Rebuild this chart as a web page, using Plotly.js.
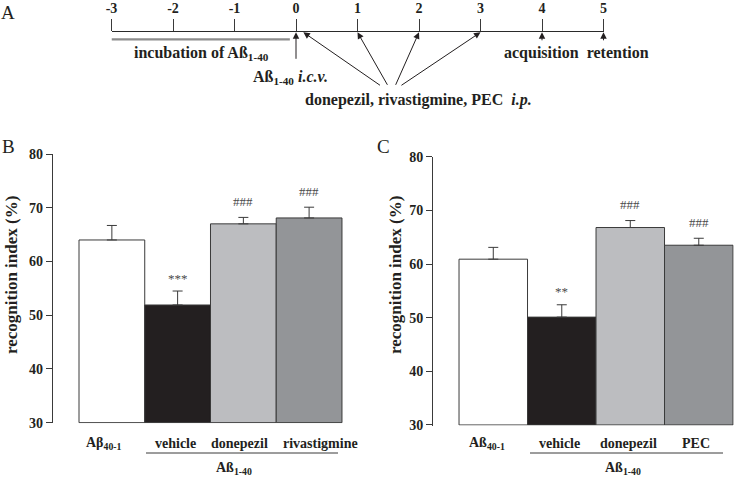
<!DOCTYPE html>
<html>
<head>
<meta charset="utf-8">
<script src="https://cdn.plot.ly/plotly-3.0.1.min.js"></script>
<style>html,body{margin:0;padding:0;background:#fff;}#chart{width:734px;height:477px;}</style>
</head>
<body>
<div id="chart"></div>
<script>
// ---------- Panel A: timeline data ----------
const days = [-3, -2, -1, 0, 1, 2, 3, 4, 5];
const incubation = [-3, 0];          // incubation of Aß1-40 (days)
const icvDay = 0;                     // Aß1-40 i.c.v.
const injectionDays = [0, 1, 2, 3];   // donepezil, rivastigmine, PEC i.p.
const testDays = [4, 5];              // acquisition, retention

// ---------- Panel B ----------
const catsB = ['Aβ<sub>40-1</sub>', 'vehicle', 'donepezil', 'rivastigmine'];
const valsB = [64.0, 51.9, 67.0, 68.1];
const errB  = [2.7, 2.6, 1.2, 2.0];
const sigB  = ['', '***', '###', '###'];

// ---------- Panel C ----------
const catsC = ['Aß<sub>40-1</sub>', 'vehicle', 'donepezil', 'PEC'];
const valsC = [60.9, 50.1, 66.8, 63.5];
const errC  = [2.2, 2.3, 1.3, 1.3];
const sigC  = ['', '**', '###', '###'];

const groupLabel = 'Aß<sub>1-40</sub>';
const yTitle = 'recognition index (%)';
const baseVal = 30;

const barColors = ['#ffffff', '#231f20', '#bcbdc0', '#939598'];
const FONT = 'Liberation Serif';
const INK = '#231f20';

function barTrace(vals, errs, xa, ya) {
  return {
    type: 'bar',
    x: vals.map((v, i) => i),
    y: vals.map(v => v - baseVal),
    base: baseVal,
    width: 1,
    xaxis: xa, yaxis: ya,
    marker: {color: barColors, line: {color: '#3a3a3a', width: 1}},
    error_y: {type: 'data', symmetric: false, array: errs, arrayminus: errs.map(() => 0),
              color: '#3a3a3a', thickness: 1, width: 5},
    hoverinfo: 'skip'
  };
}

const traces = [
  barTrace(valsB, errB, 'x', 'y'),
  barTrace(valsC, errC, 'x2', 'y2'),
  // incubation line (panel A)
  {type: 'scatter', mode: 'lines', x: [incubation[0], incubation[1] - 0.1], y: [-7, -7],
   xaxis: 'x3', yaxis: 'y3', line: {color: '#8c8c8c', width: 2.2}, hoverinfo: 'skip'}
];

const yAxisCommon = {
  range: [29.9, 80], tickvals: [30, 40, 50, 60, 70, 80], ticks: 'outside', ticklen: 6,
  tickwidth: 1, tickcolor: '#3a3a3a', showline: true, linecolor: '#3a3a3a', linewidth: 1,
  showgrid: false, zeroline: false, fixedrange: true,
  tickfont: {family: FONT, size: 14, weight: 'bold', color: INK}
};
const xAxisCommon = {showgrid: false, zeroline: false, showticklabels: false, ticks: '',
                     showline: false, fixedrange: true};

const annotations = [];
const shapes = [];

// Panel letters
[['A', 8, 12.5], ['B', 8, 146], ['C', 383, 146.5]].forEach(([t, px, py]) => {
  annotations.push({text: t, xref: 'paper', yref: 'paper', x: px / 734, y: (477 - py) / 477,
    xanchor: 'center', yanchor: 'middle', showarrow: false,
    font: {family: FONT, size: 19, color: INK}});
});

// Panel A texts and arrows
function pA(text, px, py, size) {
  annotations.push({text: text, xref: 'paper', yref: 'paper', x: px / 734, y: (477 - py) / 477,
    xanchor: 'center', yanchor: 'middle', showarrow: false,
    font: {family: FONT, size: size || 16, weight: 'bold', color: INK}});
}
pA('incubation of ' + groupLabel, 201, 54);
pA(groupLabel + ' <i>i.c.v.</i>', 290, 77);
pA('donepezil, rivastigmine, PEC  <i>i.p.</i>', 418, 100);
pA('acquisition  retention', 576, 53);

// i.c.v. arrow
annotations.push({text: '', xref: 'x3', yref: 'y3', axref: 'x3', ayref: 'y3',
  x: icvDay, y: 0, ax: icvDay, ay: -28, showarrow: true, arrowhead: 2, arrowsize: 1.3,
  arrowwidth: 1, arrowcolor: INK, standoff: 0});
// injection arrows converge to the text
const tailX = [1.39, 1.50, 1.61, 1.69];
injectionDays.forEach((d, i) => {
  annotations.push({text: '', xref: 'x3', yref: 'y3', axref: 'x3', ayref: 'y3',
    x: d + (i === 0 ? 0.12 : 0), y: 0, ax: tailX[i], ay: -54, showarrow: true, arrowhead: 2,
    arrowsize: 1.3, arrowwidth: 1, arrowcolor: INK, standoff: 0});
});
// test-day arrows
testDays.forEach(d => {
  annotations.push({text: '', xref: 'x3', yref: 'y3', axref: 'x3', ayref: 'y3',
    x: d, y: 0, ax: d, ay: -9.5, showarrow: true, arrowhead: 2, arrowsize: 1.3,
    arrowwidth: 1, arrowcolor: INK, standoff: 0});
});

// Bar panels: category labels, significance marks, brackets, axis titles
function panelAnno(cats, vals, errs, sigs, xa, ya, shifts, bracket, groupPx, titlePx) {
  cats.forEach((c, i) => {
    annotations.push({text: c, xref: xa, yref: 'paper', x: i, y: (477 - 443) / 477,
      xshift: shifts[i], xanchor: 'center', yanchor: 'middle', showarrow: false,
      font: {family: FONT, size: 14, weight: 'bold', color: INK}});
    if (sigs[i]) {
      const isStar = sigs[i][0] === '*';
      annotations.push({text: sigs[i], xref: xa, yref: ya, x: i, y: vals[i] + errs[i],
        yshift: isStar ? 13 : 16, xanchor: 'center', yanchor: 'middle', showarrow: false,
        font: {family: FONT, size: 13, color: '#4a4a4a'}});
    }
  });
  shapes.push({type: 'line', xref: 'paper', yref: 'paper', x0: bracket[0] / 734, x1: bracket[1] / 734,
    y0: (477 - 453) / 477, y1: (477 - 453) / 477, line: {color: '#3a3a3a', width: 1}});
  annotations.push({text: groupLabel, xref: 'paper', yref: 'paper', x: groupPx / 734, y: (477 - 468) / 477,
    xanchor: 'center', yanchor: 'middle', showarrow: false,
    font: {family: FONT, size: 14, weight: 'bold', color: INK}});
  annotations.push({text: yTitle, xref: 'paper', yref: 'paper', x: titlePx / 734, y: (477 - 275) / 477,
    xanchor: 'center', yanchor: 'middle', textangle: -90, showarrow: false,
    font: {family: FONT, size: 17, weight: 'bold', color: INK}});
}
panelAnno(catsB, valsB, errB, sigB, 'x', 'y', [-8, -2, -4, 11], [146, 338], 234, 11);
panelAnno(catsC, valsC, errC, sigC, 'x2', 'y2', [-6, -2, -2, -3], [530, 723], 623, 395);

const layout = {
  width: 734, height: 477,
  margin: {l: 0, r: 0, t: 0, b: 0},
  paper_bgcolor: '#ffffff', plot_bgcolor: 'rgba(0,0,0,0)',
  showlegend: false, bargap: 0,
  font: {family: FONT, color: INK},
  xaxis: Object.assign({}, xAxisCommon, {domain: [0.0718, 0.4677], range: [-0.9, 3.52], anchor: 'y'}),
  yaxis: Object.assign({}, yAxisCommon, {domain: [(477 - 423.2) / 477, (477 - 154) / 477], anchor: 'x'}),
  xaxis2: Object.assign({}, xAxisCommon, {domain: [433 / 734, 733.7 / 734], range: [-0.88, 3.51], anchor: 'y2'}),
  yaxis2: Object.assign({}, yAxisCommon, {domain: [(477 - 425.5) / 477, (477 - 156.7) / 477], anchor: 'x2'}),
  xaxis3: {domain: [111.5 / 734, 603.5 / 734], range: [-3, 5], anchor: 'y3', side: 'top',
           tickvals: days, ticktext: days.map(String), ticks: 'outside', ticklen: 12, tickwidth: 1,
           tickcolor: '#3a3a3a', showline: true, linecolor: '#2a2a2a', linewidth: 1.3,
           showgrid: false, zeroline: false, fixedrange: true,
           tickfont: {family: FONT, size: 14, weight: 'bold', color: INK}},
  yaxis3: {domain: [(477 - 110.3) / 477, (477 - 32.3) / 477], range: [-78, 0], anchor: 'x3',
           visible: false, fixedrange: true},
  annotations: annotations,
  shapes: shapes
};

Plotly.newPlot('chart', traces, layout, {staticPlot: true, displayModeBar: false});
</script>
</body>
</html>
